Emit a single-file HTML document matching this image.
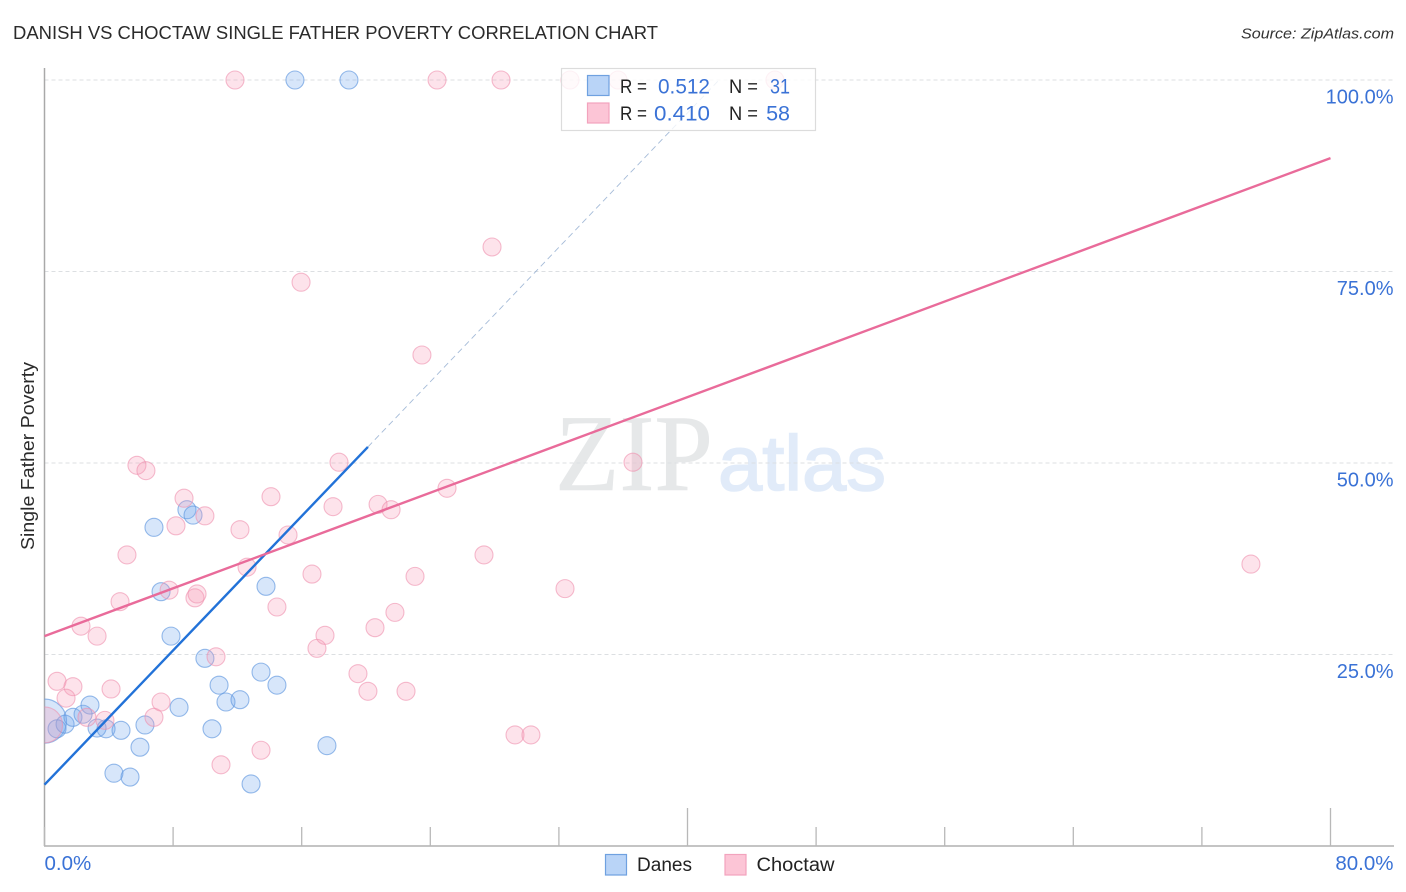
<!DOCTYPE html>
<html lang="en">
<head>
<meta charset="utf-8">
<title>Danish vs Choctaw Single Father Poverty Correlation Chart</title>
<style>
html,body{margin:0;padding:0;background:#fff;width:1406px;height:892px;overflow:hidden}
svg{display:block;font-family:"Liberation Sans",sans-serif}
</style>
</head>
<body>
<svg id="chart" width="1406" height="892" viewBox="0 0 1406 892" xmlns="http://www.w3.org/2000/svg">
  <defs>
    <clipPath id="plot-clip"><rect x="44.5" y="60" width="1362" height="786"/></clipPath>
  </defs>
  <text x="13" y="39" font-size="18.5" fill="#2b2b2b" textLength="645" lengthAdjust="spacingAndGlyphs">DANISH VS CHOCTAW SINGLE FATHER POVERTY CORRELATION CHART</text>
  <text x="1394" y="38.500" font-size="15" font-style="italic" fill="#333" text-anchor="end" textLength="153" lengthAdjust="spacingAndGlyphs">Source: ZipAtlas.com</text>

  <g id="watermark">
    <text x="555" y="490" font-family="'Liberation Serif',serif" font-size="109" fill="#e6e8e9" stroke="#e6e8e9" stroke-width="0.6" textLength="158" lengthAdjust="spacingAndGlyphs">ZIP</text>
    <text x="718" y="490" font-size="78" fill="#e1ebf9" stroke="#e1ebf9" stroke-width="1.6" textLength="168" lengthAdjust="spacingAndGlyphs">atlas</text>
  </g>

  <g id="grid"></g>
  <g id="axes"></g>
  <g id="points" clip-path="url(#plot-clip)"></g>
  <g id="trends"></g>

  <text x="34" y="456" font-size="18.500" fill="#2b2b2b" text-anchor="middle" transform="rotate(-90 34 456)" textLength="188" lengthAdjust="spacingAndGlyphs">Single Father Poverty</text>

  <g id="stat-legend">
    <rect x="561.5" y="68.500" width="254" height="62" fill="#ffffff" fill-opacity="0.8" stroke="#dcdcdc" stroke-width="1.2"/>
    <rect x="587.500" y="75.500" width="21.500" height="20" fill="#b9d4f7" stroke="#6fa1e0" stroke-width="1.2"/>
    <rect x="587.500" y="103" width="21.500" height="20" fill="#fcc5d6" stroke="#f2a3bd" stroke-width="1.2"/>
    <text x="620" y="93" font-size="19" fill="#222" textLength="27" lengthAdjust="spacingAndGlyphs">R =</text>
    <text x="710" y="93.500" font-size="21.500" fill="#3a72d6" text-anchor="end" textLength="52" lengthAdjust="spacingAndGlyphs">0.512</text>
    <text x="729" y="93" font-size="19" fill="#222" textLength="29" lengthAdjust="spacingAndGlyphs">N =</text>
    <text x="790" y="93.500" font-size="21.500" fill="#3a72d6" text-anchor="end" textLength="20" lengthAdjust="spacingAndGlyphs">31</text>
    <text x="620" y="120" font-size="19" fill="#222" textLength="27" lengthAdjust="spacingAndGlyphs">R =</text>
    <text x="710" y="120.500" font-size="21.500" fill="#3a72d6" text-anchor="end" textLength="56" lengthAdjust="spacingAndGlyphs">0.410</text>
    <text x="729" y="120" font-size="19" fill="#222" textLength="29" lengthAdjust="spacingAndGlyphs">N =</text>
    <text x="790" y="120.500" font-size="21.500" fill="#3a72d6" text-anchor="end">58</text>
  </g>

  <g id="bottom-legend">
    <rect x="605.500" y="854.500" width="21" height="20.500" fill="#b9d4f7" stroke="#6fa1e0" stroke-width="1.2"/>
    <text x="637" y="871" font-size="19" fill="#222" textLength="55" lengthAdjust="spacingAndGlyphs">Danes</text>
    <rect x="725" y="854.500" width="21" height="20.500" fill="#fcc5d6" stroke="#f2a3bd" stroke-width="1.2"/>
    <text x="756.500" y="871" font-size="19" fill="#222" textLength="78" lengthAdjust="spacingAndGlyphs">Choctaw</text>
  </g>
</svg>
<script>
const yTickValues = [25, 50, 75, 100];
const yTickLabels = ["25.0%", "50.0%", "75.0%", "100.0%"];
const xTickValues = [0, 8, 16, 24, 32, 40, 48, 56, 64, 72, 80];
const xMajorTicks = [40, 80];
const xEndValues = [0, 80];
const xEndLabels = ["0.0%", "80.0%"];

const danesX = [0, 0.78, 1.28, 1.77, 2.40, 2.83, 3.27, 3.83, 4.76, 6.25, 5.94, 4.32, 5.32, 8.37, 9.98, 7.87, 10.86, 11.29, 12.16, 10.42, 13.47, 14.46, 12.85, 17.57, 7.25, 6.81, 8.86, 9.24, 13.78, 15.58, 18.94];
const danesY = [16.3, 15.3, 15.9, 16.8, 17.2, 18.4, 15.4, 15.3, 15.1, 15.8, 12.9, 9.5, 9.0, 18.1, 24.5, 27.4, 21.0, 18.8, 19.1, 15.3, 22.7, 21.0, 8.1, 13.1, 33.2, 41.6, 43.9, 43.2, 33.9, 100, 100];
const danesWeight = [6, 1, 1, 1, 1, 1, 1, 1, 1, 1, 1, 1, 1, 1, 1, 1, 1, 1, 1, 1, 1, 1, 1, 1, 1, 1, 1, 1, 1, 1, 1];

const choctawX = [0, 0.78, 1.77, 1.34, 4.14, 2.64, 3.76, 6.81, 7.25, 10.67, 10.98, 13.47, 16.95, 17.45, 3.27, 2.27, 4.70, 5.13, 5.75, 6.31, 7.75, 8.18, 8.68, 9.36, 9.49, 9.98, 12.16, 12.60, 14.09, 14.46, 15.15, 16.64, 17.95, 18.32, 19.50, 20.12, 20.56, 20.75, 21.56, 21.80, 22.49, 23.05, 25.04, 23.48, 15.96, 27.84, 27.34, 29.27, 30.26, 32.38, 36.61, 75.05, 11.85, 24.42, 28.40, 32.69, 35.68, 45.44];
const choctawY = [15.8, 21.5, 20.8, 19.3, 20.5, 16.8, 16.4, 16.8, 18.8, 24.7, 10.6, 12.5, 25.8, 27.5, 27.4, 28.7, 31.9, 38.0, 49.7, 49.0, 33.4, 41.8, 45.4, 32.4, 32.9, 43.1, 41.3, 36.4, 45.6, 31.2, 40.6, 35.5, 44.3, 50.1, 22.5, 20.2, 28.5, 44.6, 43.9, 30.5, 20.2, 35.2, 46.7, 64.1, 73.6, 78.2, 38.0, 14.5, 14.5, 33.6, 50.1, 36.8, 100, 100, 100, 100, 100, 100];
const choctawWeight = [4, 1, 1, 1, 1, 1, 1, 1, 1, 1, 1, 1, 1, 1, 1, 1, 1, 1, 1, 1, 1, 1, 1, 1, 1, 1, 1, 1, 1, 1, 1, 1, 1, 1, 1, 1, 1, 1, 1, 1, 1, 1, 1, 1, 1, 1, 1, 1, 1, 1, 1, 1, 1, 1, 1, 1, 1, 1];

const danesTrendX = [0, 20.12];
const danesTrendY = [8.0, 52.1];
const danesProjectionX = [20.12, 41.96];
const danesProjectionY = [52.1, 100];
const choctawTrendX = [0, 80];
const choctawTrendY = [27.4, 89.8];

const NS = "http://www.w3.org/2000/svg";
const xScale = v => 44.5 + v * (1330.5 - 44.5) / 80;
const yScale = v => 846 - v * 7.66;
const radius = w => 9 * Math.pow(w, 0.5);

function make(tag, attrs, parent) {
  const el = document.createElementNS(NS, tag);
  for (const k in attrs) el.setAttribute(k, attrs[k]);
  parent.appendChild(el);
  return el;
}

const grid = document.getElementById("grid");
const axes = document.getElementById("axes");
const points = document.getElementById("points");
const trends = document.getElementById("trends");

yTickValues.forEach((v, i) => {
  const line = make("line", {x1: 44.5, x2: 1394, y1: yScale(v), y2: yScale(v), stroke: "#dcdfe2", "stroke-width": 1, "stroke-dasharray": "4 3"}, grid);
  
  
  const label = make("text", {x: 1393.5, y: yScale(v) + 23.5, "font-size": 20, fill: "#3a72d6", "text-anchor": "end"}, axes);
  label.textContent = yTickLabels[i];
  
  
});

const yAxisLine = make("line", {x1: 44.5, x2: 44.5, y1: 68, y2: 846, stroke: "#a9a9a9", "stroke-width": 1.5}, axes);


const xAxisLine = make("line", {x1: 44, x2: 1394, y1: 846, y2: 846, stroke: "#b0b0b0", "stroke-width": 1.5}, axes);



xTickValues.forEach(v => {
  const top = xMajorTicks.includes(v) ? 808 : 827;
  const tick = make("line", {x1: xScale(v), x2: xScale(v), y1: top, y2: 846, stroke: "#b8b8b8", "stroke-width": 1.3}, axes);
  
  
});

xEndValues.forEach((v, i) => {
  const label = make("text", {x: i === 0 ? xScale(v) : xScale(v) + 63, y: 870, "font-size": 20.5, fill: "#3a72d6", "text-anchor": i === 0 ? "start" : "end"}, axes);
  label.textContent = xEndLabels[i];
  
  
});

danesX.forEach((v, i) => {
  const c = make("circle", {cx: xScale(v), cy: yScale(danesY[i]), r: radius(danesWeight[i]), fill: "#6ea6ec", "fill-opacity": 0.28, stroke: "#5f96df", "stroke-opacity": 0.65, "stroke-width": 1.1}, points);
  
  
});

choctawX.forEach((v, i) => {
  const c = make("circle", {cx: xScale(v), cy: yScale(choctawY[i]), r: radius(choctawWeight[i]), fill: "#f79ab8", "fill-opacity": 0.28, stroke: "#ee8fae", "stroke-opacity": 0.6, "stroke-width": 1.1}, points);
  
  
});

const projection = make("line", {x1: xScale(danesProjectionX[0]), y1: yScale(danesProjectionY[0]), x2: xScale(danesProjectionX[1]), y2: yScale(danesProjectionY[1]), stroke: "#7f9ec8", "stroke-width": 0.9, "stroke-dasharray": "6 4", "stroke-opacity": 0.7}, trends);



const danesTrend = make("line", {x1: xScale(danesTrendX[0]), y1: yScale(danesTrendY[0]), x2: xScale(danesTrendX[1]), y2: yScale(danesTrendY[1]), stroke: "#2272d8", "stroke-width": 2.4}, trends);



const choctawTrend = make("line", {x1: xScale(choctawTrendX[0]), y1: yScale(choctawTrendY[0]), x2: xScale(choctawTrendX[1]), y2: yScale(choctawTrendY[1]), stroke: "#e96b9a", "stroke-width": 2.4}, trends);


</script>
</body>
</html>
